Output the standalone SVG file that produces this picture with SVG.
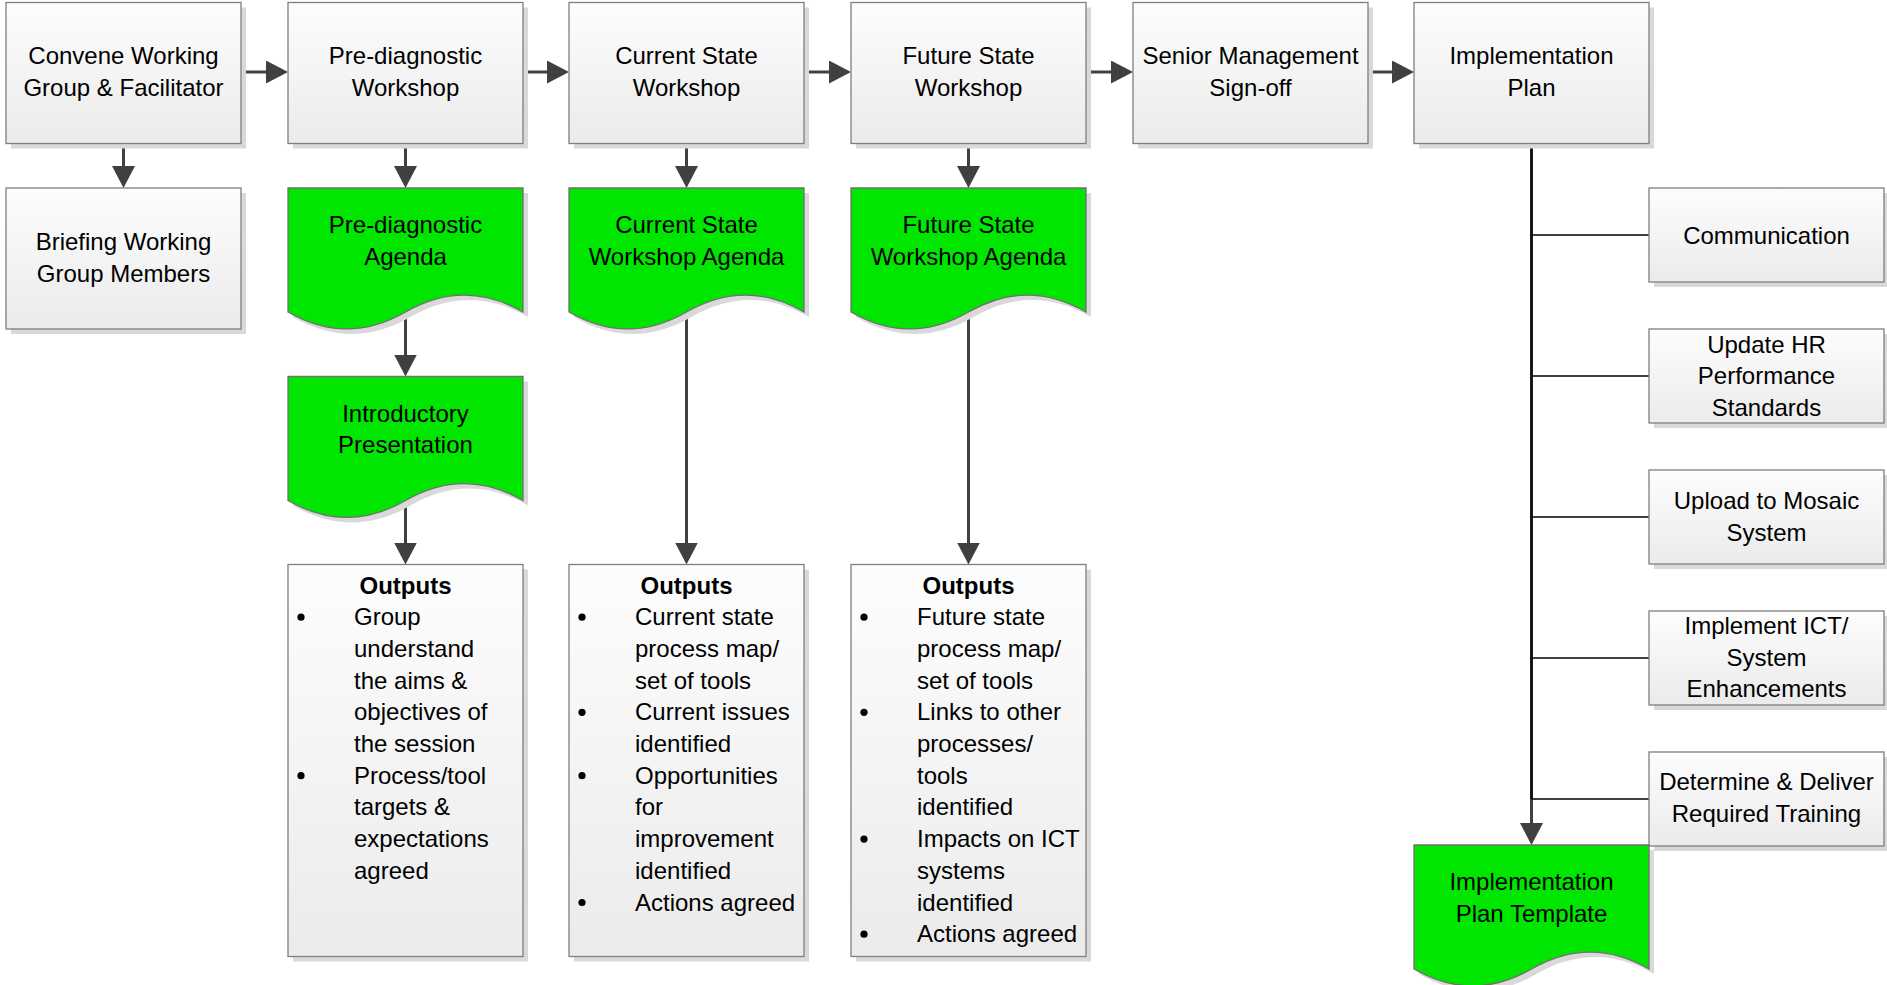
<svg xmlns="http://www.w3.org/2000/svg" width="1887" height="985" viewBox="0 0 1887 985">
  <defs>
    <linearGradient id="boxFill" x1="0" y1="0" x2="0" y2="1">
      <stop offset="0" stop-color="#fdfdfd"/>
      <stop offset="1" stop-color="#ebebeb"/>
    </linearGradient>
    <marker id="arrow" markerUnits="userSpaceOnUse" markerWidth="24" markerHeight="24" refX="2" refY="11.5" orient="auto">
      <path d="M0,0 L22,11.5 L0,23 Z" fill="#404040"/>
    </marker>
    <style>
      .box { fill: url(#boxFill); stroke: #7f7f7f; stroke-width: 1.3; }
      .doc { fill: #00e600; stroke: #6f6f6f; stroke-width: 1.3; }
      .sh { fill: #d9d9d9; }
      .t { font-family: "Liberation Sans", Arial, sans-serif; font-size: 24px; fill: #000; text-anchor: middle; }
      .l { text-anchor: start; }
      .b { font-weight: bold; }
      .conn { stroke: #404040; stroke-width: 3; fill: none; }
      .arr { marker-end: url(#arrow); }
      .branch { stroke: #000; stroke-width: 1.5; fill: none; }
      .trunk { stroke: #111; stroke-width: 2.5; fill: none; }
      .dot { fill: #000; }
    </style>
  </defs>

  <rect width="1887" height="985" fill="#fff"/>

  <!-- connectors -->
  <g id="connectors">
    <line class="conn arr" x1="241" y1="72" x2="268" y2="72"/>
    <line class="conn arr" x1="523" y1="72" x2="549" y2="72"/>
    <line class="conn arr" x1="804" y1="72" x2="831" y2="72"/>
    <line class="conn arr" x1="1086" y1="72" x2="1113" y2="72"/>
    <line class="conn arr" x1="1368" y1="72" x2="1394" y2="72"/>

    <line class="conn arr" x1="123.5" y1="143.5" x2="123.5" y2="168"/>
    <line class="conn arr" x1="405.5" y1="143.5" x2="405.5" y2="168"/>
    <line class="conn arr" x1="686.5" y1="143.5" x2="686.5" y2="168"/>
    <line class="conn arr" x1="968.5" y1="143.5" x2="968.5" y2="168"/>

    <line class="conn arr" x1="405.5" y1="312" x2="405.5" y2="356.5"/>
    <line class="conn arr" x1="405.5" y1="500.5" x2="405.5" y2="544.5"/>
    <line class="conn arr" x1="686.5" y1="312" x2="686.5" y2="544.5"/>
    <line class="conn arr" x1="968.5" y1="312" x2="968.5" y2="544.5"/>

    <line class="conn arr" x1="1531.5" y1="143.5" x2="1531.5" y2="825"/>
    <line class="trunk" x1="1531.5" y1="143.5" x2="1531.5" y2="799"/>
    <line class="branch" x1="1531.5" y1="235" x2="1649" y2="235"/>
    <line class="branch" x1="1531.5" y1="376" x2="1649" y2="376"/>
    <line class="branch" x1="1531.5" y1="517" x2="1649" y2="517"/>
    <line class="branch" x1="1531.5" y1="658" x2="1649" y2="658"/>
    <line class="branch" x1="1531.5" y1="799" x2="1649" y2="799"/>
  </g>

  <!-- top row of process steps -->
  <g id="convene">
    <rect class="sh" x="11" y="7.5" width="235" height="141"/>
    <rect class="box" x="6" y="2.5" width="235" height="141"/>
    <text class="t"><tspan x="123.5" y="64">Convene Working</tspan><tspan x="123.5" y="96">Group &amp; Facilitator</tspan></text>
  </g>
  <g id="prediag-workshop">
    <rect class="sh" x="293" y="7.5" width="235" height="141"/>
    <rect class="box" x="288" y="2.5" width="235" height="141"/>
    <text class="t"><tspan x="405.5" y="64">Pre-diagnostic</tspan><tspan x="405.5" y="96">Workshop</tspan></text>
  </g>
  <g id="current-workshop">
    <rect class="sh" x="574" y="7.5" width="235" height="141"/>
    <rect class="box" x="569" y="2.5" width="235" height="141"/>
    <text class="t"><tspan x="686.5" y="64">Current State</tspan><tspan x="686.5" y="96">Workshop</tspan></text>
  </g>
  <g id="future-workshop">
    <rect class="sh" x="856" y="7.5" width="235" height="141"/>
    <rect class="box" x="851" y="2.5" width="235" height="141"/>
    <text class="t"><tspan x="968.5" y="64">Future State</tspan><tspan x="968.5" y="96">Workshop</tspan></text>
  </g>
  <g id="signoff">
    <rect class="sh" x="1138" y="7.5" width="235" height="141"/>
    <rect class="box" x="1133" y="2.5" width="235" height="141"/>
    <text class="t"><tspan x="1250.5" y="64">Senior Management</tspan><tspan x="1250.5" y="96">Sign-off</tspan></text>
  </g>
  <g id="impl-plan">
    <rect class="sh" x="1419" y="7.5" width="235" height="141"/>
    <rect class="box" x="1414" y="2.5" width="235" height="141"/>
    <text class="t"><tspan x="1531.5" y="64">Implementation</tspan><tspan x="1531.5" y="96">Plan</tspan></text>
  </g>

  <!-- second row -->
  <g id="briefing">
    <rect class="sh" x="11" y="193" width="235" height="141"/>
    <rect class="box" x="6" y="188" width="235" height="141"/>
    <text class="t"><tspan x="123.5" y="250">Briefing Working</tspan><tspan x="123.5" y="282">Group Members</tspan></text>
  </g>
  <g id="prediag-agenda">
    <path class="sh" transform="translate(5,5)" d="M288,188 H523 V312 C483.8,289.4 444.7,289.4 405.5,312 C366.3,334.6 327.2,334.6 288,312 Z"/>
    <path class="doc" d="M288,188 H523 V312 C483.8,289.4 444.7,289.4 405.5,312 C366.3,334.6 327.2,334.6 288,312 Z"/>
    <text class="t"><tspan x="405.5" y="233">Pre-diagnostic</tspan><tspan x="405.5" y="265">Agenda</tspan></text>
  </g>
  <g id="current-agenda">
    <path class="sh" transform="translate(5,5)" d="M569,188 H804 V312 C764.8,289.4 725.7,289.4 686.5,312 C647.3,334.6 608.2,334.6 569,312 Z"/>
    <path class="doc" d="M569,188 H804 V312 C764.8,289.4 725.7,289.4 686.5,312 C647.3,334.6 608.2,334.6 569,312 Z"/>
    <text class="t"><tspan x="686.5" y="233">Current State</tspan><tspan x="686.5" y="265">Workshop Agenda</tspan></text>
  </g>
  <g id="future-agenda">
    <path class="sh" transform="translate(5,5)" d="M851,188 H1086 V312 C1046.8,289.4 1007.7,289.4 968.5,312 C929.3,334.6 890.2,334.6 851,312 Z"/>
    <path class="doc" d="M851,188 H1086 V312 C1046.8,289.4 1007.7,289.4 968.5,312 C929.3,334.6 890.2,334.6 851,312 Z"/>
    <text class="t"><tspan x="968.5" y="233">Future State</tspan><tspan x="968.5" y="265">Workshop Agenda</tspan></text>
  </g>
  <g id="intro-presentation">
    <path class="sh" transform="translate(5,5)" d="M288,376.5 H523 V500.5 C483.8,477.9 444.7,477.9 405.5,500.5 C366.3,523.1 327.2,523.1 288,500.5 Z"/>
    <path class="doc" d="M288,376.5 H523 V500.5 C483.8,477.9 444.7,477.9 405.5,500.5 C366.3,523.1 327.2,523.1 288,500.5 Z"/>
    <text class="t"><tspan x="405.5" y="421.5">Introductory</tspan><tspan x="405.5" y="453">Presentation</tspan></text>
  </g>

  <!-- output lists -->
  <g id="prediag-outputs">
    <rect class="sh" x="293" y="569.5" width="235" height="392"/>
    <rect class="box" x="288" y="564.5" width="235" height="392"/>
    <text class="t b" x="405.5" y="593.5">Outputs</text>
    <circle class="dot" cx="301" cy="617.2" r="3.6"/>
    <circle class="dot" cx="301" cy="775.7" r="3.6"/>
    <text class="t l">
      <tspan x="354" y="625.2">Group</tspan>
      <tspan x="354" y="656.9">understand</tspan>
      <tspan x="354" y="688.6">the aims &amp;</tspan>
      <tspan x="354" y="720.3">objectives of</tspan>
      <tspan x="354" y="752">the session</tspan>
      <tspan x="354" y="783.7">Process/tool</tspan>
      <tspan x="354" y="815.4">targets &amp;</tspan>
      <tspan x="354" y="847.1">expectations</tspan>
      <tspan x="354" y="878.8">agreed</tspan>
    </text>
  </g>
  <g id="current-outputs">
    <rect class="sh" x="574" y="569.5" width="235" height="392"/>
    <rect class="box" x="569" y="564.5" width="235" height="392"/>
    <text class="t b" x="686.5" y="593.5">Outputs</text>
    <circle class="dot" cx="582" cy="617.2" r="3.6"/>
    <circle class="dot" cx="582" cy="712.3" r="3.6"/>
    <circle class="dot" cx="582" cy="775.7" r="3.6"/>
    <circle class="dot" cx="582" cy="902.5" r="3.6"/>
    <text class="t l">
      <tspan x="635" y="625.2">Current state</tspan>
      <tspan x="635" y="656.9">process map/</tspan>
      <tspan x="635" y="688.6">set of tools</tspan>
      <tspan x="635" y="720.3">Current issues</tspan>
      <tspan x="635" y="752">identified</tspan>
      <tspan x="635" y="783.7">Opportunities</tspan>
      <tspan x="635" y="815.4">for</tspan>
      <tspan x="635" y="847.1">improvement</tspan>
      <tspan x="635" y="878.8">identified</tspan>
      <tspan x="635" y="910.5">Actions agreed</tspan>
    </text>
  </g>
  <g id="future-outputs">
    <rect class="sh" x="856" y="569.5" width="235" height="392"/>
    <rect class="box" x="851" y="564.5" width="235" height="392"/>
    <text class="t b" x="968.5" y="593.5">Outputs</text>
    <circle class="dot" cx="864" cy="617.2" r="3.6"/>
    <circle class="dot" cx="864" cy="712.3" r="3.6"/>
    <circle class="dot" cx="864" cy="839.1" r="3.6"/>
    <circle class="dot" cx="864" cy="934.2" r="3.6"/>
    <text class="t l">
      <tspan x="917" y="625.2">Future state</tspan>
      <tspan x="917" y="656.9">process map/</tspan>
      <tspan x="917" y="688.6">set of tools</tspan>
      <tspan x="917" y="720.3">Links to other</tspan>
      <tspan x="917" y="752">processes/</tspan>
      <tspan x="917" y="783.7">tools</tspan>
      <tspan x="917" y="815.4">identified</tspan>
      <tspan x="917" y="847.1">Impacts on ICT</tspan>
      <tspan x="917" y="878.8">systems</tspan>
      <tspan x="917" y="910.5">identified</tspan>
      <tspan x="917" y="942.2">Actions agreed</tspan>
    </text>
  </g>

  <!-- implementation tasks -->
  <g id="communication">
    <rect class="sh" x="1654" y="193" width="235" height="94"/>
    <rect class="box" x="1649" y="188" width="235" height="94"/>
    <text class="t" x="1766.5" y="243.5">Communication</text>
  </g>
  <g id="hr-standards">
    <rect class="sh" x="1654" y="334" width="235" height="94"/>
    <rect class="box" x="1649" y="329" width="235" height="94"/>
    <text class="t"><tspan x="1766.5" y="352.5">Update HR</tspan><tspan x="1766.5" y="384">Performance</tspan><tspan x="1766.5" y="415.5">Standards</tspan></text>
  </g>
  <g id="mosaic-upload">
    <rect class="sh" x="1654" y="475" width="235" height="94"/>
    <rect class="box" x="1649" y="470" width="235" height="94"/>
    <text class="t"><tspan x="1766.5" y="509">Upload to Mosaic</tspan><tspan x="1766.5" y="540.5">System</tspan></text>
  </g>
  <g id="ict-enhancements">
    <rect class="sh" x="1654" y="616" width="235" height="94"/>
    <rect class="box" x="1649" y="611" width="235" height="94"/>
    <text class="t"><tspan x="1766.5" y="634">Implement ICT/</tspan><tspan x="1766.5" y="665.5">System</tspan><tspan x="1766.5" y="697">Enhancements</tspan></text>
  </g>
  <g id="training">
    <rect class="sh" x="1654" y="757" width="235" height="94"/>
    <rect class="box" x="1649" y="752" width="235" height="94"/>
    <text class="t"><tspan x="1766.5" y="790">Determine &amp; Deliver</tspan><tspan x="1766.5" y="821.5">Required Training</tspan></text>
  </g>
  <g id="plan-template">
    <path class="sh" transform="translate(5,5)" d="M1414,845 H1649 V969 C1609.8,946.4 1570.7,946.4 1531.5,969 C1492.3,991.6 1453.2,991.6 1414,969 Z"/>
    <path class="doc" d="M1414,845 H1649 V969 C1609.8,946.4 1570.7,946.4 1531.5,969 C1492.3,991.6 1453.2,991.6 1414,969 Z"/>
    <text class="t"><tspan x="1531.5" y="890">Implementation</tspan><tspan x="1531.5" y="922">Plan Template</tspan></text>
  </g>
</svg>
